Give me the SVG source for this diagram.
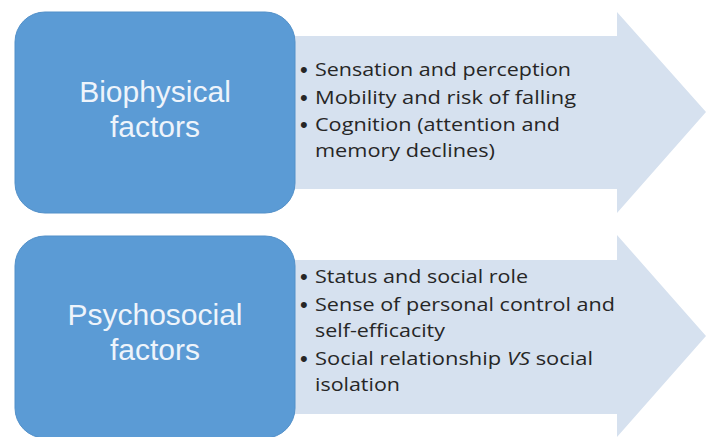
<svg xmlns="http://www.w3.org/2000/svg" width="706" height="437" viewBox="0 0 706 437">
<style>
.arrow{fill:#d6e1ef}
.box{fill:#5b9bd5;stroke:#5290c9;stroke-width:1}
.title{font-family:"Liberation Sans",Arial,sans-serif;font-size:30px;fill:#eef4fb;text-anchor:middle}
.item{font-family:"Open Sans","Liberation Sans",sans-serif;font-size:19px;fill:#262626}
.bullet{font-family:"Liberation Sans",Arial,sans-serif;font-size:22px;fill:#262626}
</style>
<rect width="706" height="437" fill="#ffffff"/>
<g id="connectors">
<polygon id="arrow-top" class="arrow" points="285,36 617,36 617,12 706,112 617,213 617,189 285,189"/>
<polygon id="arrow-bottom" class="arrow" points="285,260 617,260 617,235 706,336 617,437 617,414 285,414"/>
</g>
<g id="biophysical">
<rect class="box" x="15" y="12" width="280" height="201" rx="30" ry="30"/>
<text class="title" x="155" y="102">Biophysical</text>
<text class="title" x="155" y="137">factors</text>
</g>
<g id="biophysical-list">
<text class="bullet" x="300" y="77">•</text>
<text class="item" x="315" y="76" textLength="256" lengthAdjust="spacingAndGlyphs">Sensation and perception</text>
<text class="bullet" x="300" y="105">•</text>
<text class="item" x="315" y="104" textLength="261" lengthAdjust="spacingAndGlyphs">Mobility and risk of falling</text>
<text class="bullet" x="300" y="132">•</text>
<text class="item" x="315" y="131" textLength="245" lengthAdjust="spacingAndGlyphs">Cognition (attention and</text>
<text class="item" x="315" y="157" textLength="180" lengthAdjust="spacingAndGlyphs">memory declines)</text>
</g>
<g id="psychosocial">
<rect class="box" x="15" y="236" width="280" height="202" rx="30" ry="30"/>
<text class="title" x="155" y="325">Psychosocial</text>
<text class="title" x="155" y="360">factors</text>
</g>
<g id="psychosocial-list">
<text class="bullet" x="300" y="284">•</text>
<text class="item" x="315" y="283" textLength="213" lengthAdjust="spacingAndGlyphs">Status and social role</text>
<text class="bullet" x="300" y="312">•</text>
<text class="item" x="315" y="311" textLength="300" lengthAdjust="spacingAndGlyphs">Sense of personal control and</text>
<text class="item" x="315" y="337" textLength="130" lengthAdjust="spacingAndGlyphs">self-efficacity</text>
<text class="bullet" x="300" y="366">•</text>
<text class="item" x="315" y="365" textLength="278" lengthAdjust="spacingAndGlyphs">Social relationship <tspan font-style="italic">VS</tspan> social</text>
<text class="item" x="315" y="391" textLength="85" lengthAdjust="spacingAndGlyphs">isolation</text>
</g>
</svg>
